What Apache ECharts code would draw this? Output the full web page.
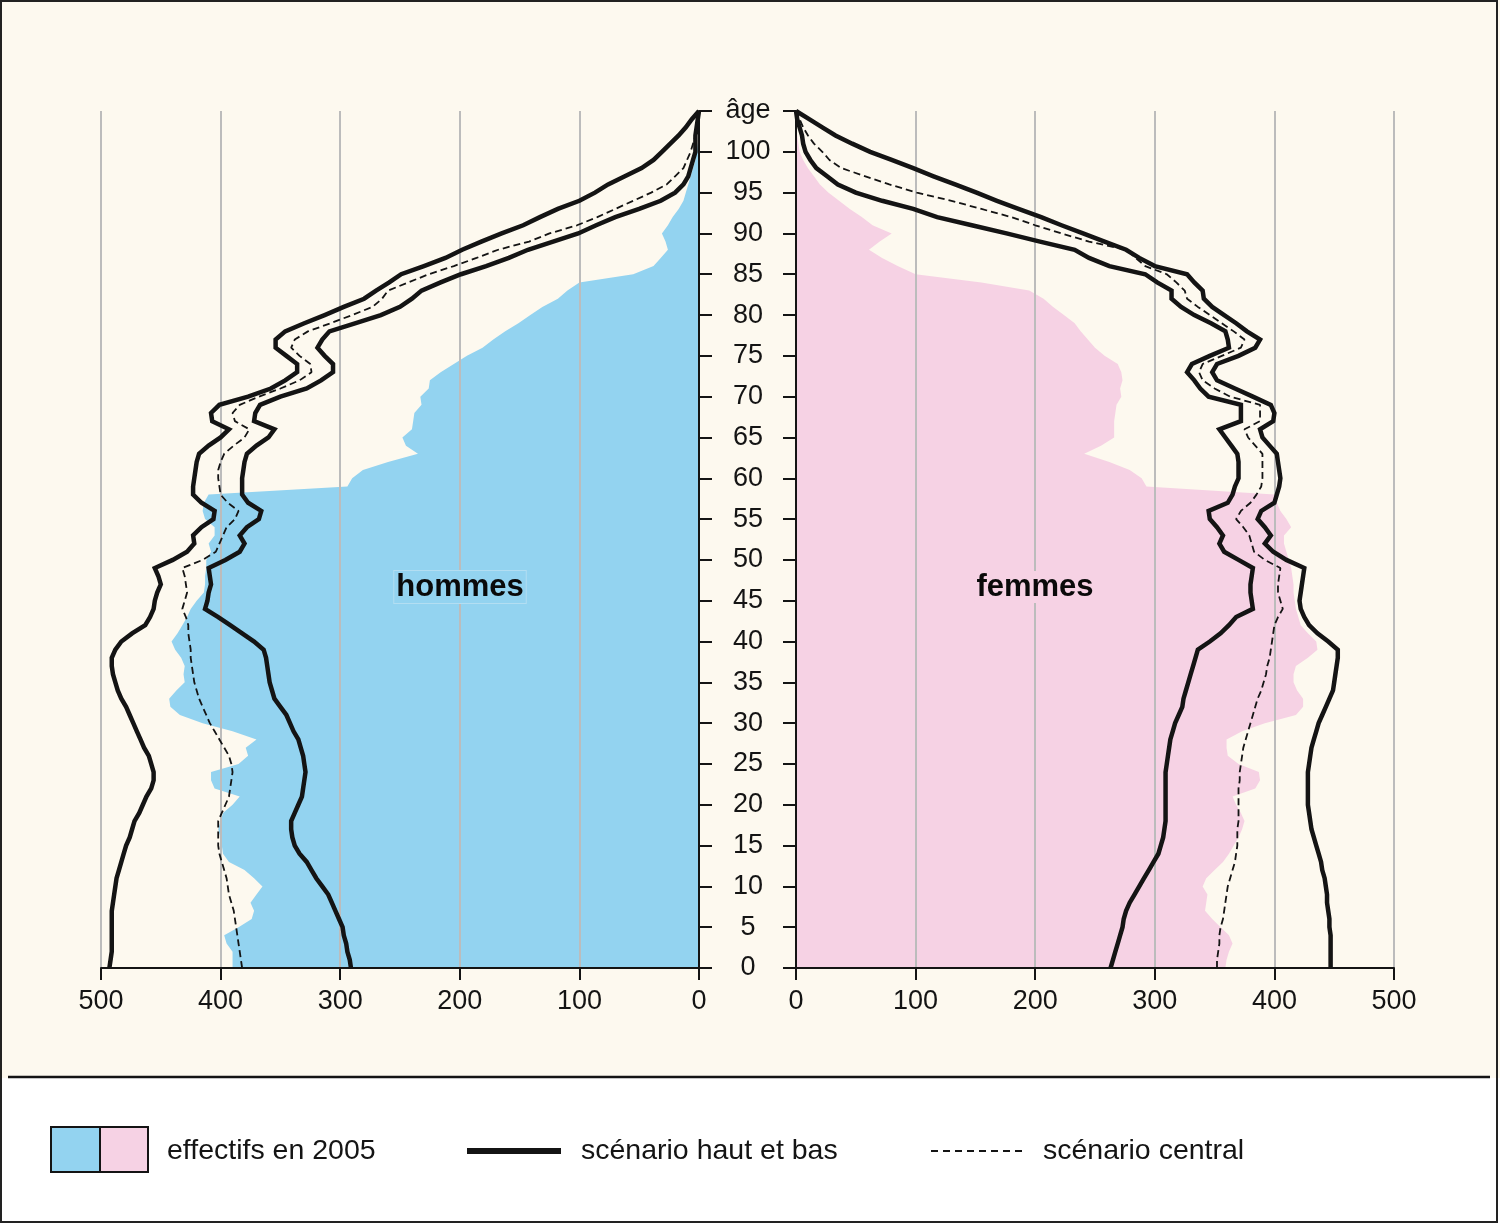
<!DOCTYPE html>
<html>
<head>
<meta charset="utf-8">
<script src="https://cdn.jsdelivr.net/npm/echarts@6/dist/echarts.min.js"></script>
<style>
html,body{margin:0;padding:0;background:#ffffff;}
#c{width:1500px;height:1225px;}
</style>
</head>
<body>
<div id="c"></div>
<script>
// ages 0..105 (category axis, bottom to top)
var ages = Array.from({length: 106}, function (_, i) { return String(i); });
var xTicks = [0, 100, 200, 300, 400, 500];

// hommes (thousands), index = age
var menArea = [390,390,390,395,397,385,374,372,375,370, 365,372,380,393,398,399,400,402,400,398,
  390,384,405,408,408,385,377,379,370,390, 415,434,442,443,437,430,431,430,433,438,
  441,436,432,428,425,420,414,413,413,412, 412,408,410,405,405,413,415,414,410,294,
  290,281,260,235,245,248,240,239,238,232, 233,226,225,216,205,194,181,172,162,151,
  141,131,118,110,100,55,38,32,26,28, 31,26,22,17,13,11,9,7,5,3, 2,1,0,0,0,0];
var menHigh = [493,492,491,491,491,491,491,491,490,489, 488,487,485,483,481,479,476,474,472,468,
  465,462,458,456,456,458,460,464,467,470, 473,476,479,483,486,488,490,491,491,488,
  483,474,463,459,456,455,453,450,452,455, 440,428,422,423,416,406,405,416,423,423,
  422,421,420,418,410,400,393,407,408,401, 377,358,346,336,336,345,354,354,346,330,
  313,297,280,270,259,249,230,212,198,182, 165,147,133,118,100,87,76,62,48,38, 31,24,17,11,6,0];
var menLow = [291,292,294,295,297,298,301,304,307,310, 315,320,324,328,334,338,340,341,341,338,
  335,332,331,330,329,330,331,333,335,339, 342,345,350,355,357,359,360,361,362,364,
  372,382,392,402,413,411,410,408,409,410, 396,384,380,384,378,368,366,377,382,382,
  382,381,380,378,370,360,355,372,371,367, 350,328,316,306,306,313,319,315,309,287,
  266,250,240,232,216,199,178,159,143,122, 101,86,70,50,32,20,13,9,7,5, 3,3,3,2,1,0];
var menMid = [382,383,384,385,386,387,388,389,391,393, 394,395,397,399,401,402,402,402,402,399,
  396,393,392,391,390,391,393,397,401,405, 409,412,415,418,420,422,423,424,425,425,
  426,427,427,429,432,430,428,429,430,432, 415,404,401,398,395,388,385,394,400,401,
  402,402,400,397,389,380,376,388,390,384, 368,350,334,324,325,334,341,338,327,308,
  290,273,265,260,243,226,205,186,168,142, 125,102,85,70,55,40,27,20,13,10, 7,5,3,2,1,0];

// femmes (thousands), index = age
var womenArea = [359,360,362,365,362,355,348,342,343,344, 340,343,350,357,362,366,370,373,375,372,
  368,365,384,388,387,370,361,360,360,373, 392,418,424,424,419,416,416,418,428,436,
  435,428,422,420,418,417,416,416,415,414, 412,410,408,408,414,410,405,402,400,293,
  289,279,262,241,255,266,266,266,267,268, 272,271,273,272,269,258,250,244,238,233,
  224,215,207,195,155,100,85,72,61,70, 80,64,55,45,36,27,20,15,10,6, 3,2,1,0,0,0];
var womenHigh = [447,447,447,447,447,446,446,445,444,444, 443,442,440,439,437,435,433,431,430,429,
  428,428,428,428,428,429,430,431,433,435, 437,440,443,446,449,450,451,452,453,453,
  445,436,429,425,422,421,422,423,424,425, 410,399,392,397,392,386,389,400,402,404,
  405,404,403,402,396,390,388,399,400,397, 382,367,352,348,352,370,384,388,377,368,
  358,348,341,340,333,327,300,287,276,258, 240,222,205,186,168,151,133,115,98,80, 62,47,33,22,11,0];
var womenLow = [263,265,267,269,271,273,274,276,279,283, 287,291,295,299,303,305,307,308,309,309,
  309,309,309,309,309,310,311,312,313,315, 317,320,323,324,326,328,330,332,334,336,
  346,355,362,368,382,381,380,380,381,382, 370,358,354,357,352,346,345,361,365,367,
  370,370,370,369,364,359,354,372,372,372, 345,338,333,327,331,346,362,361,359,347,
  333,322,314,314,302,292,262,245,233,204, 176,147,118,98,72,50,35,26,17,12, 8,6,5,3,1,0];
var womenMid = [352,352,353,354,354,355,357,358,359,360, 361,363,365,367,368,369,369,369,370,370,
  370,370,370,371,371,372,373,374,376,378, 380,382,384,386,389,391,393,394,396,397,
  398,399,400,403,407,405,403,403,404,405, 392,383,381,379,374,368,372,380,385,389,
  390,390,390,390,384,378,375,388,388,388, 363,350,340,337,340,356,372,375,366,356,
  346,336,327,325,318,310,292,284,276,245, 222,200,180,155,130,101,78,58,38,28, 22,15,10,6,3,0];

var FONT = '"Liberation Sans", Arial, Helvetica, sans-serif';
var INK = '#141414';
var CREAM = '#fdf9ef';
var BLUE = '#93d3f0';
var PINK = '#f6d2e4';
var GRID = '#bcbcbc';

function xAxisDef(idx, inverse) {
  return {
    gridIndex: idx, type: 'value', min: 0, max: 500, interval: 100, inverse: inverse,
    position: 'bottom', z: 3,
    axisLine: {show: true, lineStyle: {color: INK, width: 2}},
    axisTick: {show: true, length: 12, lineStyle: {color: INK, width: 2}},
    axisLabel: {show: true, margin: 20, fontSize: 27, fontFamily: FONT, color: INK},
    splitLine: {show: true, lineStyle: {color: GRID, width: 2}}
  };
}
function yAxisDef(idx, pos, showLabel) {
  return {
    gridIndex: idx, type: 'category', data: ages, boundaryGap: false, position: pos, z: 5,
    axisLine: {show: true, onZero: false, lineStyle: {color: INK, width: 2}},
    axisTick: {show: true, length: 13, interval: 4, lineStyle: {color: INK, width: 2}},
    axisLabel: {
      show: showLabel, interval: 4, align: 'center', margin: 48,
      fontSize: 27, fontFamily: FONT, color: INK,
      formatter: function (v) { return v === '105' ? 'âge' : v; }
    },
    splitLine: {show: false}
  };
}
function areaSeries(idx, data, color) {
  return {type: 'line', xAxisIndex: idx, yAxisIndex: idx, data: data, symbol: 'none',
    lineStyle: {width: 0}, areaStyle: {color: color, opacity: 1}, z: 2, silent: true};
}
function lineSeries(idx, data, dashed) {
  return {type: 'line', xAxisIndex: idx, yAxisIndex: idx, data: data, symbol: 'none', z: 6,
    lineStyle: dashed ? {color: INK, width: 1.8, type: [7, 4]} : {color: INK, width: 4.5, join: 'miter'},
    silent: true};
}

var chart = echarts.init(document.getElementById('c'), null, {renderer: 'canvas'});
chart.setOption({
  animation: false,
  backgroundColor: CREAM,
  grid: [
    {left: 101, width: 598, top: 111, height: 857},
    {left: 796, width: 598, top: 111, height: 857}
  ],
  xAxis: [xAxisDef(0, true), xAxisDef(1, false)],
  yAxis: [yAxisDef(0, 'right', false), yAxisDef(1, 'left', true)],
  series: [
    areaSeries(0, menArea, BLUE),
    lineSeries(0, menHigh, false),
    lineSeries(0, menLow, false),
    lineSeries(0, menMid, true),
    areaSeries(1, womenArea, PINK),
    lineSeries(1, womenHigh, false),
    lineSeries(1, womenLow, false),
    lineSeries(1, womenMid, true)
  ],
  graphic: [
    {type: 'rect', z: 0, shape: {x: 0, y: 1078, width: 1500, height: 147}, style: {fill: '#ffffff'}},
    {type: 'line', z: 10, shape: {x1: 8, y1: 1077, x2: 1490, y2: 1077}, style: {stroke: INK, lineWidth: 2.5}},
    {type: 'rect', z: 10, shape: {x: 1, y: 1, width: 1496, height: 1221}, style: {fill: null, stroke: '#222', lineWidth: 2}},
    {type: 'text', z: 10, x: 460, y: 587, style: {text: 'hommes', font: 'bold 31px ' + FONT, fill: '#0a0a0a',
      align: 'center', verticalAlign: 'middle', backgroundColor: BLUE, borderColor: '#b3def2', borderWidth: 1, padding: [1, 2, 0, 2]}},
    {type: 'text', z: 10, x: 1035, y: 587, style: {text: 'femmes', font: 'bold 31px ' + FONT, fill: '#0a0a0a',
      align: 'center', verticalAlign: 'middle', backgroundColor: PINK, padding: [1, 2, 0, 2]}},
    {type: 'rect', z: 10, shape: {x: 51, y: 1127, width: 49, height: 45}, style: {fill: BLUE}},
    {type: 'rect', z: 10, shape: {x: 100, y: 1127, width: 48, height: 45}, style: {fill: PINK}},
    {type: 'rect', z: 11, shape: {x: 51, y: 1127, width: 97, height: 45}, style: {fill: null, stroke: INK, lineWidth: 2}},
    {type: 'line', z: 11, shape: {x1: 100, y1: 1127, x2: 100, y2: 1172}, style: {stroke: INK, lineWidth: 2}},
    {type: 'text', z: 10, x: 167, y: 1151, style: {text: 'effectifs en 2005', font: '28.5px ' + FONT, fill: INK, align: 'left', verticalAlign: 'middle'}},
    {type: 'line', z: 10, shape: {x1: 467, y1: 1151, x2: 561, y2: 1151}, style: {stroke: INK, lineWidth: 6}},
    {type: 'text', z: 10, x: 581, y: 1151, style: {text: 'scénario haut et bas', font: '28.5px ' + FONT, fill: INK, align: 'left', verticalAlign: 'middle'}},
    {type: 'line', z: 10, shape: {x1: 931, y1: 1151, x2: 1022, y2: 1151}, style: {stroke: INK, lineWidth: 2, lineDash: [7, 5]}},
    {type: 'text', z: 10, x: 1043, y: 1151, style: {text: 'scénario central', font: '28.5px ' + FONT, fill: INK, align: 'left', verticalAlign: 'middle'}}
  ]
});
</script>
</body>
</html>
